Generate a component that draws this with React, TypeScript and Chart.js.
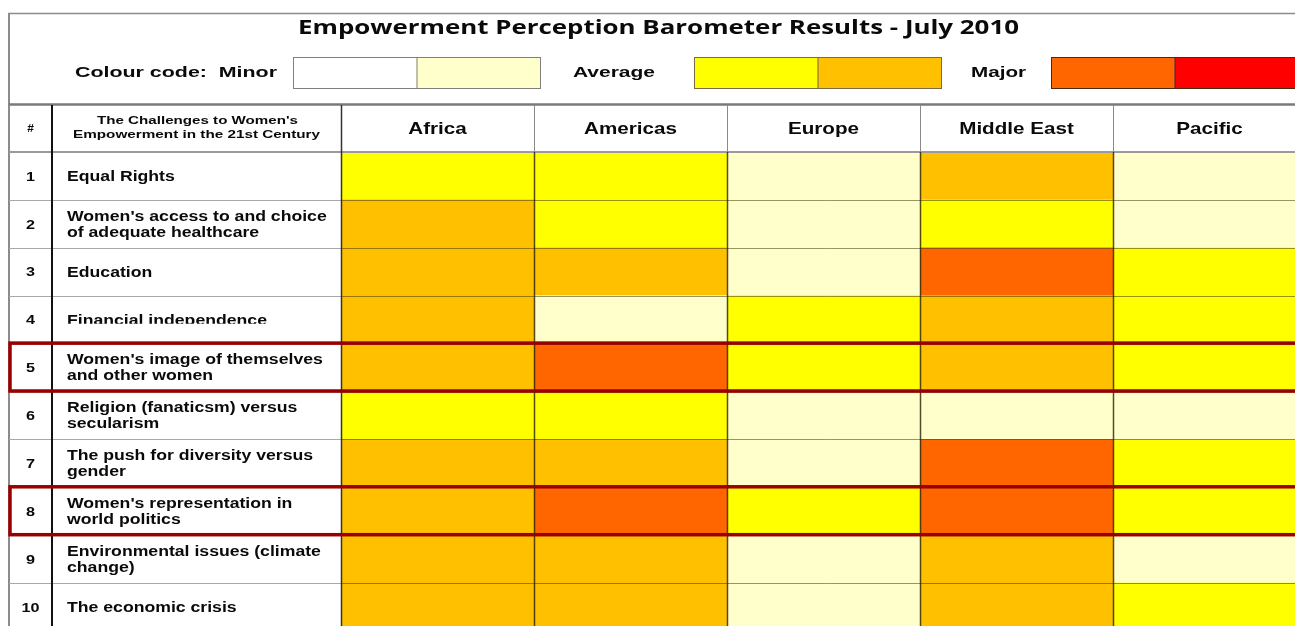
import { useEffect, useRef } from "react";
import { Chart, registerables } from "chart.js";

Chart.register(...registerables);

const titleText = "Empowerment Perception Barometer Results - July 2010";
const colourCodeLabel = "Colour code:  Minor";
const legendGroups = ["Minor", "Average", "Major"];
const legendLevels = [
  [0, 1],
  [2, 3],
  [4, 5],
];
const levelColors = ["#FFFFFF", "#FFFFCC", "#FFFF00", "#FFC000", "#FF6600", "#FF0000"];

const numberHeader = "#";
const challengeHeader = ["The Challenges to Women's", "Empowerment in the 21st Century"];
const regions = ["Africa", "Americas", "Europe", "Middle East", "Pacific"];
const rowNumbers = ["1", "2", "3", "4", "5", "6", "7", "8", "9", "10"];
const challenges = [
  ["Equal Rights"],
  ["Women's access to and choice", "of adequate healthcare"],
  ["Education"],
  ["Financial independence"],
  ["Women's image of themselves", "and other women"],
  ["Religion (fanaticsm) versus", "secularism"],
  ["The push for diversity versus", "gender"],
  ["Women's representation in", "world politics"],
  ["Environmental issues (climate", "change)"],
  ["The economic crisis"],
];

// level index into levelColors: 0 white, 1 light yellow, 2 yellow, 3 orange, 4 dark orange, 5 red
const africa = [2, 3, 3, 3, 3, 2, 3, 3, 3, 3];
const americas = [2, 2, 3, 1, 4, 2, 3, 4, 3, 3];
const europe = [1, 1, 1, 2, 2, 1, 1, 2, 1, 1];
const middleEast = [3, 2, 4, 3, 3, 1, 4, 4, 3, 3];
const pacific = [1, 1, 2, 2, 2, 1, 2, 2, 1, 2];
const regionLevels = [africa, americas, europe, middleEast, pacific];

const highlightedRows = [5, 8];
const clippedRows = [4];

const TEXT = "#0a0a0a";
const ARIAL = "'Liberation Sans', Arial, sans-serif";
const STRETCH = 1.26;

function fitText(ctx: CanvasRenderingContext2D, text: string, x1: number, x2: number, y: number) {
  const w = ctx.measureText(text).width;
  const sx = (x2 - x1) / w;
  ctx.save();
  ctx.textAlign = "left";
  ctx.translate(x1, y);
  ctx.scale(sx, 1);
  ctx.fillText(text, 0, 0);
  ctx.restore();
}

function scaledText(ctx: CanvasRenderingContext2D, text: string, x: number, y: number, sx: number, center: boolean) {
  const w = ctx.measureText(text).width * sx;
  ctx.save();
  ctx.textAlign = "left";
  ctx.translate(center ? x - w / 2 : x, y);
  ctx.scale(sx, 1);
  ctx.fillText(text, 0, 0);
  ctx.restore();
}

function line(ctx: CanvasRenderingContext2D, x1: number, y1: number, x2: number, y2: number, color: string, width: number) {
  ctx.beginPath();
  ctx.strokeStyle = color;
  ctx.lineWidth = width;
  ctx.moveTo(x1, y1);
  ctx.lineTo(x2, y2);
  ctx.stroke();
}

const tablePlugin = {
  id: "tablePlugin",
  afterDatasetsDraw(chart: any) {
    const ctx: CanvasRenderingContext2D = chart.ctx;
    const xs = chart.scales.x;
    const ys = chart.scales.y;
    const area = chart.chartArea;
    const band = ys.getPixelForValue(1) - ys.getPixelForValue(0);
    const rowTop = (i: number) => ys.getPixelForValue(i) - band / 2;
    const W = chart.width;
    const H = chart.height;
    const leftX = 9;
    const sepX = 52;
    const headTop = 105;

    ctx.save();
    ctx.textBaseline = "middle";
    ctx.fillStyle = TEXT;

    // title
    ctx.font = "bold 19px 'Open Sans', sans-serif";
    fitText(ctx, titleText, 298, 1019, 29);

    // legend
    ctx.font = "bold 15.5px " + ARIAL;
    fitText(ctx, colourCodeLabel, 75, 277, 73);
    fitText(ctx, legendGroups[1], 573, 655, 73);
    fitText(ctx, legendGroups[2], 971, 1026, 73);
    const boxStarts = [293, 694, 1051];
    const boxBorders = ["#7f7f7f", "#7a6a45", "#4a2a10"];
    const bw = 123.5;
    legendLevels.forEach((lv, g) => {
      lv.forEach((l, k) => {
        ctx.fillStyle = levelColors[l];
        ctx.fillRect(boxStarts[g] + k * bw, 57, bw, 32);
      });
      ctx.strokeStyle = boxBorders[g];
      ctx.lineWidth = 1;
      ctx.strokeRect(boxStarts[g] + 0.5, 57.5, bw * 2, 31);
      line(ctx, boxStarts[g] + bw + 0.5, 57, boxStarts[g] + bw + 0.5, 89, boxBorders[g], 1);
    });

    // outer frame
    line(ctx, 8, 13.5, W, 13.5, "#8c8c8c", 1.5);
    line(ctx, leftX, 13, leftX, H, "#8c8c8c", 2);
    // header lines
    line(ctx, leftX, headTop - 0.5, W, headTop - 0.5, "#7a7a7a", 2.5);
    line(ctx, leftX, area.top, W, area.top, "#9a9a9a", 2);

    // header verticals in region columns
    for (let c = 1; c < regions.length + 1; c++) {
      const x = Math.round(xs.getPixelForValue(c)) + 0.5;
      line(ctx, x, headTop, x, area.top, "#8a8a8a", 1);
    }

    // body horizontal lines (label area and colored area)
    for (let r = 1; r < rowNumbers.length; r++) {
      const y = Math.round(rowTop(r)) + 0.5;
      line(ctx, leftX, y, area.left, y, "#a8a8a8", 1);
      line(ctx, area.left, y, W, y, "rgba(70,60,10,0.55)", 1);
    }
    // body verticals in colored area
    for (let c = 1; c < regions.length + 1; c++) {
      const x = Math.round(xs.getPixelForValue(c)) + 0.5;
      line(ctx, x, area.top, x, H, "rgba(40,30,0,0.8)", 1.5);
    }
    line(ctx, sepX, headTop, sepX, H, "#111111", 2);
    line(ctx, area.left + 0.5, headTop, area.left + 0.5, H, "#333333", 1.5);

    // header texts
    ctx.fillStyle = TEXT;
    ctx.font = "bold 10px " + ARIAL;
    scaledText(ctx, numberHeader, 30.5, 129, 1.2, true);
    ctx.font = "bold 11.5px " + ARIAL;
    fitText(ctx, challengeHeader[0], 97, 298, 121);
    fitText(ctx, challengeHeader[1], 73, 320, 135);
    ctx.font = "bold 16.5px " + ARIAL;
    const headMid = (headTop + area.top) / 2 + 1;
    regions.forEach((name, c) => {
      scaledText(ctx, name, xs.getPixelForValue(c + 0.5), headMid, 1.25, true);
    });

    // row labels
    rowNumbers.forEach((num, r) => {
      const cy = ys.getPixelForValue(r) + 1;
      ctx.fillStyle = TEXT;
      ctx.font = "bold 13.5px " + ARIAL;
      scaledText(ctx, num, 30.5, cy, 1.2, true);
      ctx.font = "bold 14px " + ARIAL;
      const lines = challenges[r];
      ctx.save();
      if (clippedRows.includes(r + 1)) {
        ctx.beginPath();
        ctx.rect(sepX + 2, rowTop(r), area.left - sepX - 4, 28);
        ctx.clip();
      }
      if (lines.length === 1) {
        scaledText(ctx, lines[0], 67, cy, STRETCH, false);
      } else {
        scaledText(ctx, lines[0], 67, cy - 8, STRETCH, false);
        scaledText(ctx, lines[1], 67, cy + 8, STRETCH, false);
      }
      ctx.restore();
    });

    // highlighted rows
    highlightedRows.forEach((rowNo) => {
      const i = rowNo - 1;
      const t = rowTop(i) - 0.5;
      const b = rowTop(i) + band - 0.5;
      ctx.strokeStyle = "#9a0000";
      ctx.lineWidth = 3.5;
      ctx.strokeRect(10, t, W + 20, b - t);
    });

    ctx.restore();
  },
};

export default function App() {
  const ref = useRef<HTMLCanvasElement | null>(null);

  useEffect(() => {
    if (!ref.current) return;
    const chart = new Chart(ref.current, {
      type: "bar",
      data: {
        labels: challenges.map((c) => c.join(" ")),
        datasets: regionLevels.map((levels, r) => ({
          label: regions[r],
          data: levels.map(() => 1),
          backgroundColor: levels.map((l) => levelColors[l]),
          borderWidth: 0,
          barPercentage: 1,
          categoryPercentage: 1,
          stack: "cells",
        })),
      },
      options: {
        indexAxis: "y",
        responsive: false,
        animation: false,
        devicePixelRatio: 1,
        layout: { padding: { left: 341, top: 152, right: 4, bottom: 9 } },
        scales: {
          x: { type: "linear", stacked: true, min: 0, max: 5, display: false },
          y: { type: "category", stacked: true, display: false, offset: true },
        },
        plugins: {
          legend: { display: false },
          tooltip: { enabled: false },
          title: { display: false },
        },
      },
      plugins: [tablePlugin],
    } as any);
    return () => chart.destroy();
  }, []);

  return (
    <div
      style={{
        position: "fixed",
        left: 0,
        top: 0,
        width: 1295,
        height: 626,
        overflow: "hidden",
        background: "#ffffff",
      }}
    >
      <canvas ref={ref} width={1310} height={640} style={{ display: "block" }} />
    </div>
  );
}
